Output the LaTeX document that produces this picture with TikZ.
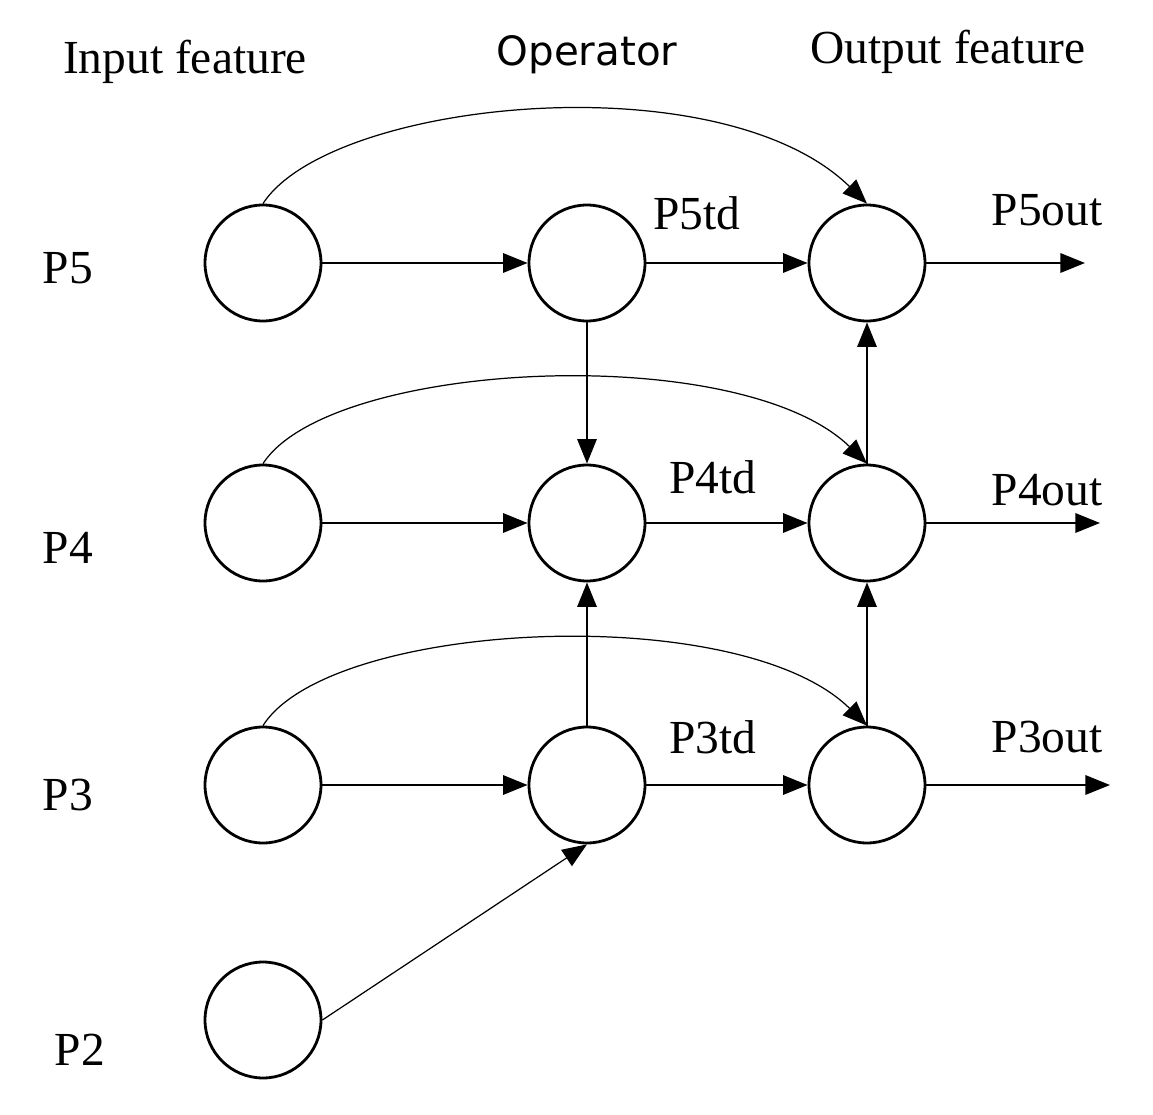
\documentclass[tikz,border=0pt]{standalone}
\usepackage{fontspec}
\setmainfont{Liberation Serif}
\newfontfamily\opfont{DejaVu Sans}
\usetikzlibrary{arrows.meta}
\begin{document}
\begin{tikzpicture}[x=0.02cm,y=-0.02cm,
  nd/.style={circle,draw,line width=1.6pt,minimum size=2.32cm,inner sep=0},
  lab/.style={font=\fontsize{27}{30}\selectfont},
  ar/.style={-{Triangle[length=14pt,width=11pt]},line width=1.3pt},
  cv/.style={-{Triangle[length=14pt,width=11pt]},line width=0.7pt}]
\useasboundingbox (0,0) rectangle (1153,1115);
\node[nd] (a5) at (263,263) {};
\node[nd] (b5) at (587,263) {};
\node[nd] (c5) at (867,263) {};
\node[nd] (a4) at (263,523) {};
\node[nd] (b4) at (587,523) {};
\node[nd] (c4) at (867,523) {};
\node[nd] (a3) at (263,785) {};
\node[nd] (b3) at (587,785) {};
\node[nd] (c3) at (867,785) {};
\node[nd] (a2) at (263,1020) {};
\node[lab] (h1) at (185,62) {Input feature};
\node[lab,font=\opfont\fontsize{23}{28}\selectfont] (h2) at (587,55) {Operator};
\node[lab] (h3) at (948,52) {Output feature};
\node[lab] (l5) at (68,268) {P5};
\node[lab] (l4) at (68,548) {P4};
\node[lab] (l3) at (68,795) {P3};
\node[lab] (l2) at (80,1050) {P2};
\node[lab] (t5) at (697,213) {P5td};
\node[lab] (t4) at (713,477) {P4td};
\node[lab] (t3) at (713,737) {P3td};
\node[lab] (o5) at (1047,210) {P5out};
\node[lab] (o4) at (1047,490) {P4out};
\node[lab] (o3) at (1047,737) {P3out};
\coordinate (e5) at (1085,263);
\coordinate (e4) at (1100,523);
\coordinate (e3) at (1110,785);
\foreach \r in {5,4,3}{
  \draw[ar] (a\r) -- (b\r);
  \draw[ar] (b\r) -- (c\r);
  \draw[ar] (c\r) -- (e\r);
}
\draw[ar] (b5) -- (b4);
\draw[ar] (b3) -- (b4);
\draw[ar] (c4) -- (c5);
\draw[ar] (c3) -- (c4);
\draw[cv] (a5.north) .. controls (330,100) and (720,60) .. (c5.north);
\draw[cv] (a4.north) .. controls (330,360) and (740,340) .. (c4.north);
\draw[cv] (a3.north) .. controls (330,620) and (740,600) .. (c3.north);
\draw[cv] (a2.east) -- (b3.south);
\end{tikzpicture}
\end{document}
